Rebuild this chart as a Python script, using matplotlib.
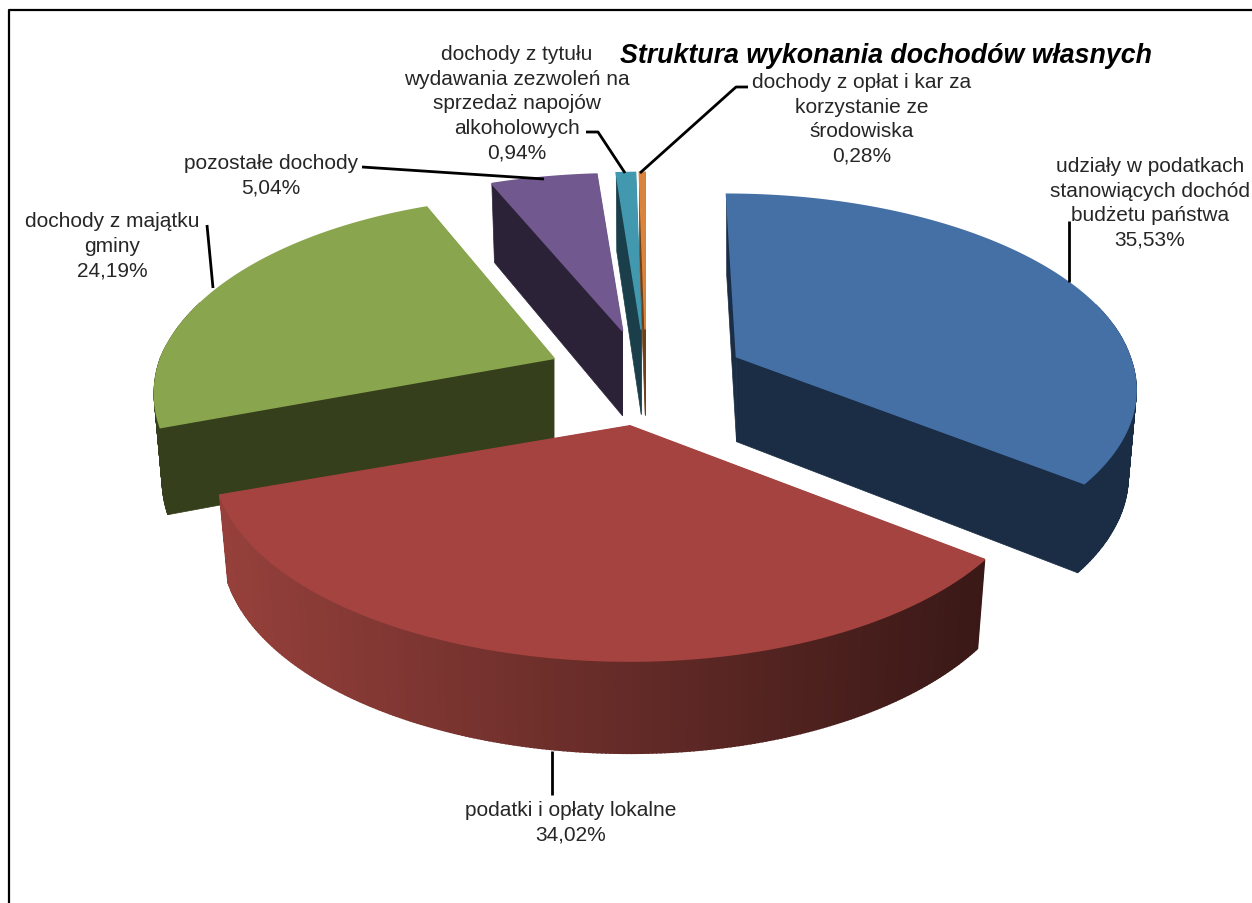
import numpy as np
import matplotlib
matplotlib.use('Agg')
import matplotlib.pyplot as plt
from matplotlib.patches import Polygon

plt.rcParams['font.family'] = ['Liberation Sans', 'DejaVu Sans']

title = 'Struktura wykonania dochodów własnych'
shares = [35.53, 34.02, 24.19, 5.04, 0.94, 0.28]
pct_labels = ['35,53%', '34,02%', '24,19%', '5,04%', '0,94%', '0,28%']
names = ['udziały w podatkach\nstanowiących dochód\nbudżetu państwa',
         'podatki i opłaty lokalne',
         'dochody z majątku\ngminy',
         'pozostałe dochody',
         'dochody z tytułu\nwydawania zezwoleń na\nsprzedaż napojów\nalkoholowych',
         'dochody z opłat i kar za\nkorzystanie ze\nśrodowiska']
top_colors = ['#4470A6', '#A54340', '#89A54E', '#71588F', '#4198AF', '#DB843D']
side_colors = ['#1A2D45', '#96403B', '#363F1C', '#2C2238', '#1B3F4A', '#6E4018']

# projection of the tilted pie, in image pixels
CX, CY = 646, 379
RX, RY = 403, 194
EXPLODE = 0.25
PERSP = 0.175
HEIGHT = 85
# per slice tuning, the far slices are a bit smaller than the near one
scale_left = [0.976, 1.017, 0.976, 1.03, 1, 1]
scale_right = [0.976, 0.995, 0.976, 1.03, 1, 1]
scale_y = [0.95, 1, 1, 1, 1, 1]
k_back = [0.135, 0.175, 0.2, 0.235, 0.235, 0.235]
lean_back = [-10, 0, 0, 0, 0, 0]


def project(a, mid, i):
    # a, mid in radians, clockwise from 12 o'clock
    apex_x = CX + EXPLODE * RX * np.sin(mid)
    apex_y = CY - EXPLODE * RY * np.cos(mid)
    u, v = np.sin(a), np.cos(a)
    s = 1 / (1 + np.where(v > 0, k_back[i], PERSP) * v)
    sx = np.where(u > 0, scale_right[i], scale_left[i])
    dx = RX * sx * u * s + lean_back[i] * np.clip(v, 0, 1)
    dy = -RY * scale_y[i] * v * s
    h = HEIGHT * (1 + 0.4 * (s - 1))
    top = np.column_stack([apex_x + dx, apex_y + dy])
    bot = np.column_stack([apex_x + 0.98 * dx, apex_y + dy + h])
    return np.array([apex_x, apex_y]), top, bot


fig = plt.figure(figsize=(12.52, 9.04), dpi=100)
ax = fig.add_axes([0, 0, 1, 1])
ax.set_xlim(0, 1252)
ax.set_ylim(904, 0)
ax.axis('off')

ax.plot([8.5, 8.5, 1252], [904, 11, 11], color='black', lw=1.6, zorder=1)

edges = np.concatenate([[0], np.cumsum(shares)]) / sum(shares) * 2 * np.pi
# back slices first, the front red one last
order = [3, 4, 5, 2, 0, 1]
for n, i in enumerate(order):
    z = 2 + n
    start, end = edges[i], edges[i + 1]
    mid = (start + end) / 2
    ang = np.linspace(start, end, max(3, int(np.degrees(end - start) * 2)))
    apex, top, bot = project(ang, mid, i)
    apex_bot = apex + [0, HEIGHT]
    side = side_colors[i]
    # both straight walls
    ax.add_patch(Polygon([apex, top[0], bot[0], apex_bot], fc=side, ec=side, lw=0.5, zorder=z))
    ax.add_patch(Polygon([apex, top[-1], bot[-1], apex_bot], fc=side, ec=side, lw=0.5, zorder=z))
    # curved wall, red one fades to dark towards the right
    base = np.array(matplotlib.colors.to_rgb(side))
    for j in range(len(ang) - 1):
        if np.cos(ang[j]) > 0.3:
            continue
        col = side
        if i == 1:
            frac = 1 - (top[j, 0] - 219) / (985 - 219)
            col = base * (0.38 + 0.62 * frac)
        ax.add_patch(Polygon([top[j], top[j + 1], bot[j + 1], bot[j]],
                             fc=col, ec=col, lw=1.2, zorder=z))
    ax.add_patch(Polygon(np.vstack([apex, top]), fc=top_colors[i], ec=top_colors[i],
                         lw=1.2, zorder=z + 0.5))

# leader lines
leaders = [
    ([1069, 1069], [222, 283]),
    ([552, 552], [752, 796]),
    ([207, 213], [226, 289]),
    ([362, 544], [168, 180]),
    ([586, 598, 625], [133, 133, 174]),
    ([748, 736, 640], [88, 88, 174]),
]
for xs, ys in leaders:
    ax.plot(xs, ys, color='black', lw=2, solid_capstyle='butt', zorder=20)

# labels: centre x and top y in pixels
label_pos = [(1150, 157), (571, 801), (112, 212), (271, 154), (517, 45), (862, 73)]
for name, pct, (x, y) in zip(names, pct_labels, label_pos):
    ax.text(x, y, name + '\n' + pct, ha='center', va='top', fontsize=15,
            linespacing=1.37, color='#262626', zorder=21)

ax.text(885.5, 56, title, ha='center', va='center', fontsize=19.3, fontweight='bold',
        fontstyle='italic', color='black', zorder=21)

fig.savefig('out.png', dpi=100)
